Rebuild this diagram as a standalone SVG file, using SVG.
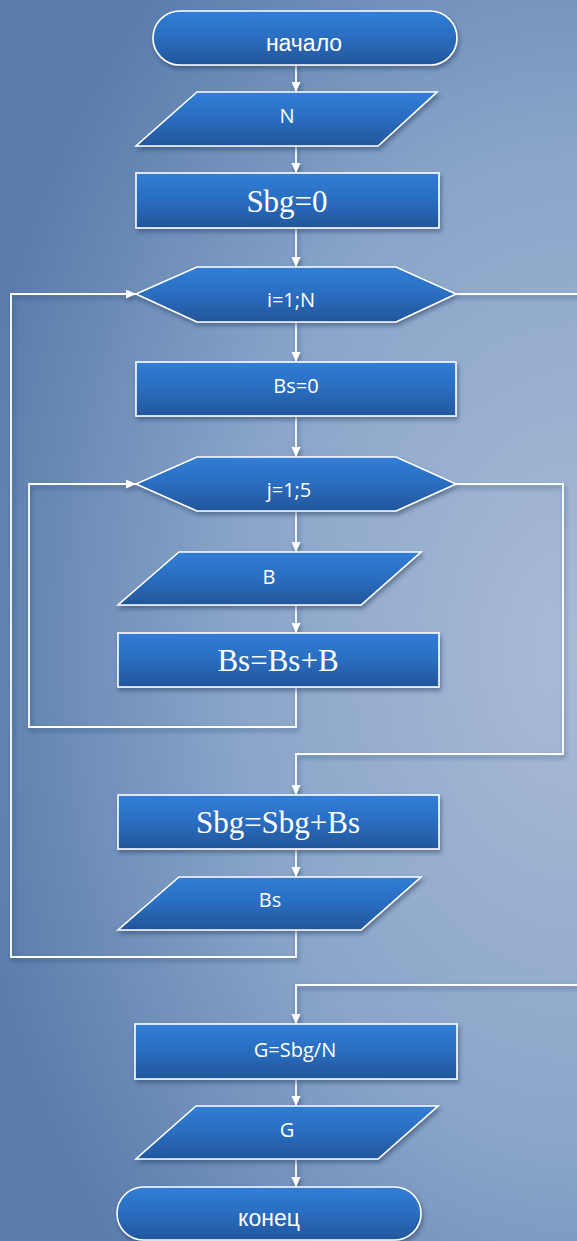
<svg xmlns="http://www.w3.org/2000/svg" width="577" height="1241" viewBox="0 0 577 1241">
<defs>
<radialGradient id="bg" gradientUnits="userSpaceOnUse" cx="577" cy="650" r="620" gradientTransform="translate(577 650) scale(1 1.45) translate(-577 -650)">
<stop offset="0" stop-color="#aabbd6"/>
<stop offset="0.55" stop-color="#8aa5c9"/>
<stop offset="1" stop-color="#5a7dac"/>
</radialGradient>
<linearGradient id="fill" x1="0" y1="0" x2="0" y2="1">
<stop offset="0" stop-color="#317dd6"/>
<stop offset="0.45" stop-color="#2b6fc3"/>
<stop offset="1" stop-color="#23569a"/>
</linearGradient>
<filter id="sh" x="-10%" y="-20%" width="120%" height="150%">
<feDropShadow dx="1.5" dy="3" stdDeviation="2" flood-color="#1c2f4f" flood-opacity="0.45"/>
</filter>
<marker id="ar" markerUnits="userSpaceOnUse" markerWidth="10" markerHeight="10" refX="10" refY="4.5" orient="auto">
<path d="M0,0 L10,4.5 L0,9 z" fill="#ffffff"/>
</marker>
<style>
.n{fill:url(#fill);stroke:#ffffff;stroke-width:1.6;filter:url(#sh)}
.c{fill:none;stroke:#ffffff;stroke-width:1.8}
.t{font-family:"Open Sans","Noto Sans",sans-serif;font-size:20px;fill:#ffffff;text-anchor:middle}
.a{font-family:"Liberation Sans",Arial,sans-serif;font-size:23px;fill:#ffffff;text-anchor:middle}
.s{font-family:"Liberation Serif","Times New Roman",serif;font-size:31px;fill:#ffffff;text-anchor:middle}
</style>
</defs>
<rect x="0" y="0" width="577" height="1241" fill="url(#bg)"/>
<g id="connectors" filter="url(#sh)">
<path class="c" d="M296,65 V92" marker-end="url(#ar)"/>
<path class="c" d="M296,146 V173" marker-end="url(#ar)"/>
<path class="c" d="M296,228 V267" marker-end="url(#ar)"/>
<path class="c" d="M296,322 V362" marker-end="url(#ar)"/>
<path class="c" d="M296,416 V457" marker-end="url(#ar)"/>
<path class="c" d="M296,511 V552" marker-end="url(#ar)"/>
<path class="c" d="M296,605 V633" marker-end="url(#ar)"/>
<path class="c" d="M296,687 V727 H29 V484 H136" marker-end="url(#ar)"/>
<path class="c" d="M456,484 H563 V754 H296 V795" marker-end="url(#ar)"/>
<path class="c" d="M296,849 V877" marker-end="url(#ar)"/>
<path class="c" d="M296,930 V957 H11 V294 H136" marker-end="url(#ar)"/>
<path class="c" d="M456,294 H582"/>
<path class="c" d="M582,985 H296 V1024" marker-end="url(#ar)"/>
<path class="c" d="M296,1079 V1106" marker-end="url(#ar)"/>
<path class="c" d="M296,1159 V1187" marker-end="url(#ar)"/>
</g>
<g id="start">
<rect class="n" x="153" y="11" width="304" height="54" rx="27" ry="27"/>
<text class="a" x="304" y="51">начало</text>
</g>
<g id="inputN">
<polygon class="n" points="197,92 437,92 378,146 136,146"/>
<text class="t" x="287" y="123">N</text>
</g>
<g id="sbg0">
<rect class="n" x="136" y="173" width="303" height="55"/>
<text class="s" x="287" y="212">Sbg=0</text>
</g>
<g id="loopI">
<polygon class="n" points="136,294 197,267 396,267 456,294 396,322 197,322"/>
<text class="t" x="291" y="307">i=1;N</text>
</g>
<g id="bs0">
<rect class="n" x="136" y="362" width="320" height="54"/>
<text class="t" x="296" y="393">Bs=0</text>
</g>
<g id="loopJ">
<polygon class="n" points="136,484 197,457 396,457 456,484 396,511 197,511"/>
<text class="t" x="289" y="497">j=1;5</text>
</g>
<g id="inputB">
<polygon class="n" points="179,552 421,552 361,605 118,605"/>
<text class="t" x="269" y="584">B</text>
</g>
<g id="bsSum">
<rect class="n" x="118" y="633" width="321" height="54"/>
<text class="s" x="278" y="671">Bs=Bs+B</text>
</g>
<g id="sbgSum">
<rect class="n" x="118" y="795" width="321" height="54"/>
<text class="s" x="278" y="833">Sbg=Sbg+Bs</text>
</g>
<g id="outputBs">
<polygon class="n" points="179,877 421,877 361,930 118,930"/>
<text class="t" x="270" y="907">Bs</text>
</g>
<g id="calcG">
<rect class="n" x="135" y="1024" width="322" height="55"/>
<text class="t" x="295" y="1057">G=Sbg/N</text>
</g>
<g id="outputG">
<polygon class="n" points="196,1106 438,1106 378,1159 136,1159"/>
<text class="t" x="287" y="1137">G</text>
</g>
<g id="end">
<rect class="n" x="117" y="1187" width="304" height="53" rx="26.5" ry="26.5"/>
<text class="a" x="269" y="1226">конец</text>
</g>
</svg>
